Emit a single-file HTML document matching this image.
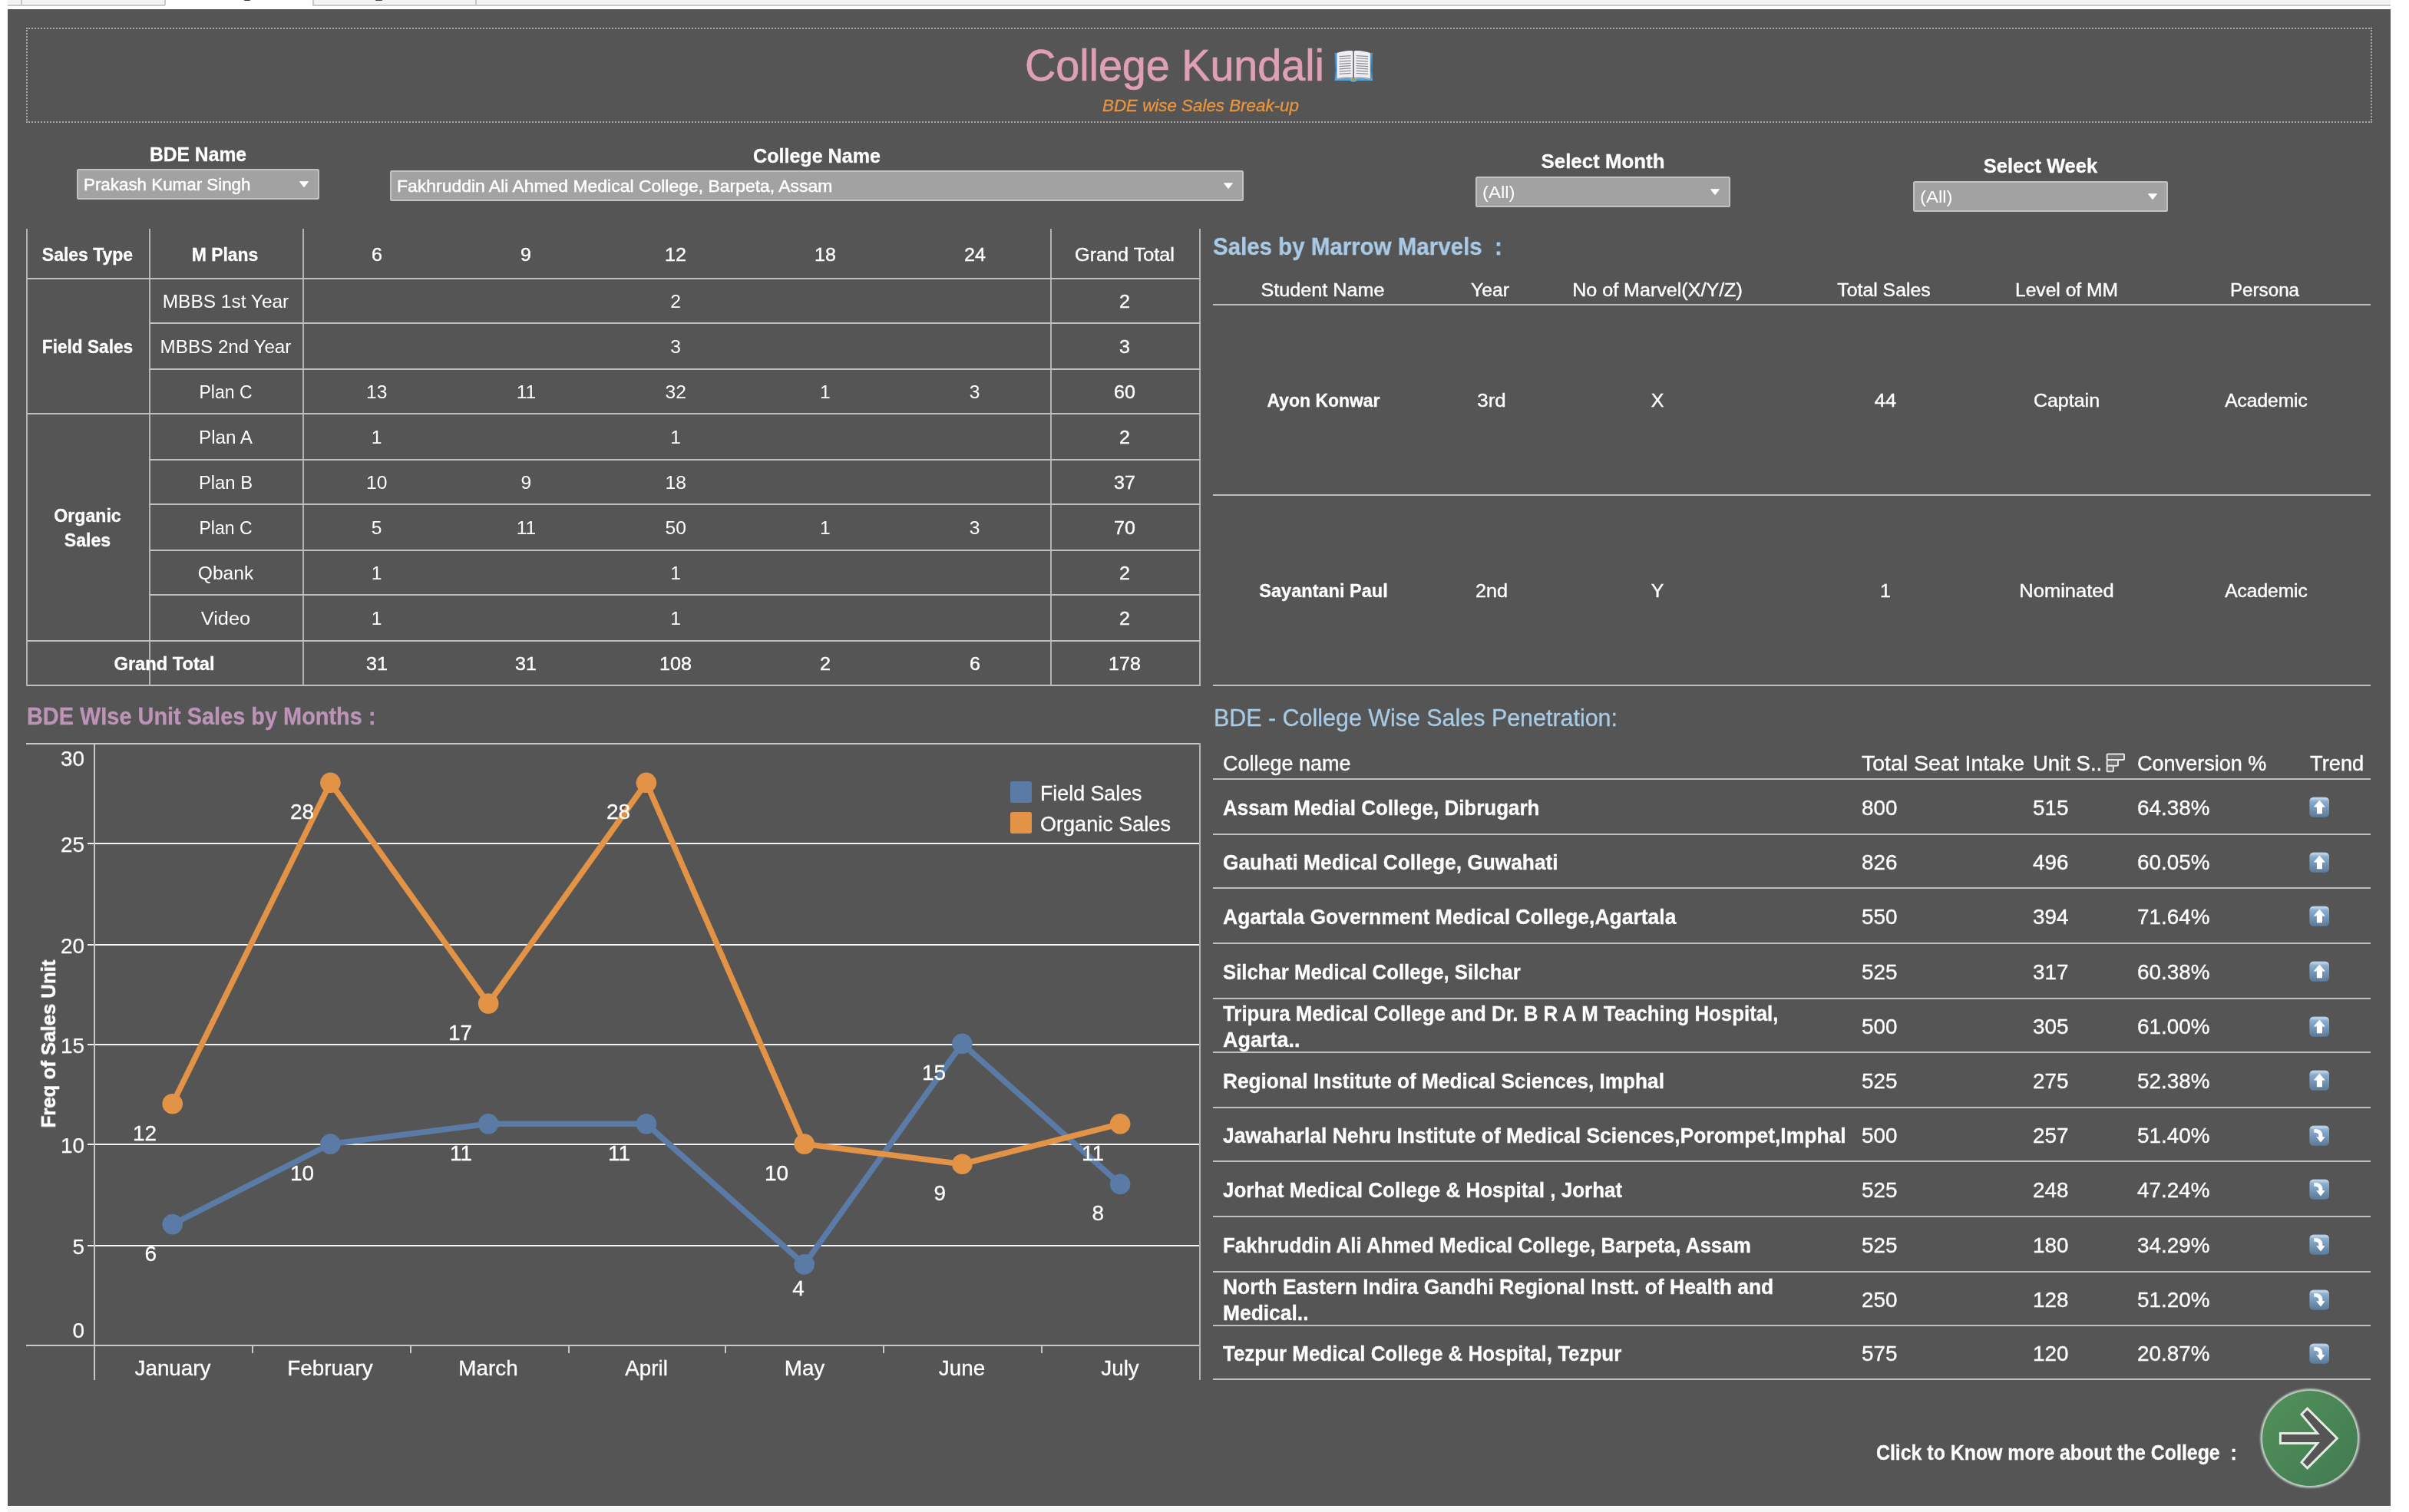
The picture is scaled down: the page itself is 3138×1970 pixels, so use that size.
<!DOCTYPE html>
<html><head><meta charset="utf-8"><title>College Kundali</title>
<style>
html,body{margin:0;padding:0;background:#fff;}
#root{position:relative;width:3138px;height:1970px;overflow:hidden;background:transparent;
 font-family:"Liberation Sans",sans-serif;will-change:transform;}
#root>div,#root>svg{position:absolute;box-sizing:content-box;}
</style></head>
<body><div id="root">
<div style="left:0.00px;top:0.00px;width:3138.00px;height:12.00px;background:#ffffff;"></div>
<div style="left:10.00px;top:0.00px;width:205.00px;height:6.00px;background:#f3f3f3;"></div>
<div style="left:407.00px;top:0.00px;width:2707.00px;height:6.00px;background:#f3f3f3;"></div>
<div style="left:10.00px;top:6.00px;width:205.00px;height:1.50px;background:#c8c8c8;"></div>
<div style="left:407.00px;top:6.00px;width:2707.00px;height:1.50px;background:#c8c8c8;"></div>
<div style="left:318.00px;top:0.00px;width:8.00px;height:1.40px;background:#333333;border-radius:0 0 2px 2px;"></div>
<div style="left:489.00px;top:0.00px;width:9.00px;height:1.20px;background:#444444;border-radius:0 0 2px 2px;"></div>
<div style="left:27.00px;top:0.00px;width:1.50px;height:7.00px;background:#c8c8c8;"></div>
<div style="left:214.00px;top:0.00px;width:1.50px;height:7.00px;background:#c8c8c8;"></div>
<div style="left:407.00px;top:0.00px;width:1.50px;height:7.00px;background:#c8c8c8;"></div>
<div style="left:619.00px;top:0.00px;width:1.50px;height:7.00px;background:#c8c8c8;"></div>
<div style="left:10.00px;top:12.00px;width:3104.00px;height:1950.00px;background:#555555;"></div>
<div style="left:10.00px;top:1963.00px;width:3104.00px;height:7.00px;background:#f5f5f5;"></div>
<div style="left:3114.00px;top:0.00px;width:24.00px;height:1970.00px;background:#ffffff;"></div>
<div style="left:0.00px;top:12.00px;width:10.00px;height:1950.00px;background:#ffffff;"></div>
<div style="left:34px;top:36px;width:3052px;height:120px;border:2px dotted #a9a9a9;background:none;"></div>
<div style="top:49.30px;height:74px;line-height:74px;font-size:56.8px;color:#dfa0b6;white-space:pre;-webkit-text-stroke:0.7px #dfa0b6;left:1334.50px;transform-origin:0 50%;transform:scaleX(0.9802);">College Kundali</div>
<div style="top:124.20px;height:28px;line-height:28px;font-size:21.9px;color:#e9963e;white-space:pre;font-style:italic;-webkit-text-stroke:0.3px #e9963e;left:1435.80px;transform-origin:0 50%;transform:scaleX(1.0210);">BDE wise Sales Break-up</div>
<div style="top:184.80px;height:33px;line-height:33px;font-size:25.2px;color:#fff;white-space:pre;font-weight:bold;-webkit-text-stroke:0.3px #fff;left:-941.70px;width:2400px;text-align:center;transform-origin:50% 50%;transform:scaleX(0.9795);">BDE Name</div>
<div style="left:100px;top:220px;width:312px;height:36px;background:#a2a2a2;border:2px solid #c2c2c2;border-radius:2.5px;"></div>
<div style="top:225.20px;height:30px;line-height:30px;font-size:22.7px;color:#fff;white-space:pre;-webkit-text-stroke:0.44999999999999996px #fff;left:109.00px;transform-origin:0 50%;transform:scaleX(0.9855);">Prakash Kumar Singh</div>
<svg style="left:389px;top:235.8px" width="14" height="9" viewBox="0 0 14 9"><path d="M0.7 0.3 L13.3 0.3 L7 8.3 Z" fill="#fff"/></svg>
<div style="top:186.80px;height:33px;line-height:33px;font-size:25.2px;color:#fff;white-space:pre;font-weight:bold;-webkit-text-stroke:0.3px #fff;left:-136.20px;width:2400px;text-align:center;transform-origin:50% 50%;transform:scaleX(0.9961);">College Name</div>
<div style="left:508px;top:222px;width:1108px;height:36px;background:#a2a2a2;border:2px solid #c2c2c2;border-radius:2.5px;"></div>
<div style="top:227.20px;height:30px;line-height:30px;font-size:22.7px;color:#fff;white-space:pre;-webkit-text-stroke:0.44999999999999996px #fff;left:517.00px;transform-origin:0 50%;transform:scaleX(1.0110);">Fakhruddin Ali Ahmed Medical College, Barpeta, Assam</div>
<svg style="left:1593px;top:237.8px" width="14" height="9" viewBox="0 0 14 9"><path d="M0.7 0.3 L13.3 0.3 L7 8.3 Z" fill="#fff"/></svg>
<div style="top:194.10px;height:33px;line-height:33px;font-size:25.2px;color:#fff;white-space:pre;font-weight:bold;-webkit-text-stroke:0.3px #fff;left:887.90px;width:2400px;text-align:center;transform-origin:50% 50%;transform:scaleX(1.0267);">Select Month</div>
<div style="left:1922px;top:230px;width:328px;height:36px;background:#a2a2a2;border:2px solid #c2c2c2;border-radius:2.5px;"></div>
<div style="top:235.20px;height:30px;line-height:30px;font-size:22.7px;color:#fff;white-space:pre;left:1931.00px;transform-origin:0 50%;transform:scaleX(1.0558);">(All)</div>
<svg style="left:2227px;top:245.8px" width="14" height="9" viewBox="0 0 14 9"><path d="M0.7 0.3 L13.3 0.3 L7 8.3 Z" fill="#fff"/></svg>
<div style="top:199.80px;height:33px;line-height:33px;font-size:25.2px;color:#fff;white-space:pre;font-weight:bold;-webkit-text-stroke:0.3px #fff;left:1457.80px;width:2400px;text-align:center;transform-origin:50% 50%;transform:scaleX(1.0121);">Select Week</div>
<div style="left:2492px;top:236px;width:328px;height:36px;background:#a2a2a2;border:2px solid #c2c2c2;border-radius:2.5px;"></div>
<div style="top:241.20px;height:30px;line-height:30px;font-size:22.7px;color:#fff;white-space:pre;left:2501.00px;transform-origin:0 50%;transform:scaleX(1.0558);">(All)</div>
<svg style="left:2797px;top:251.8px" width="14" height="9" viewBox="0 0 14 9"><path d="M0.7 0.3 L13.3 0.3 L7 8.3 Z" fill="#fff"/></svg>
<div style="left:34.00px;top:298.00px;width:2.00px;height:596.00px;background:#b2b2b2;"></div>
<div style="left:194.00px;top:298.00px;width:2.00px;height:596.00px;background:#b2b2b2;"></div>
<div style="left:394.00px;top:298.00px;width:2.00px;height:596.00px;background:#b2b2b2;"></div>
<div style="left:1368.00px;top:298.00px;width:2.00px;height:596.00px;background:#b2b2b2;"></div>
<div style="left:1562.00px;top:298.00px;width:2.00px;height:596.00px;background:#b2b2b2;"></div>
<div style="left:35.00px;top:362.00px;width:1529.00px;height:2.00px;background:#bfbfbf;"></div>
<div style="left:195.00px;top:420.00px;width:1369.00px;height:2.00px;background:#bfbfbf;"></div>
<div style="left:195.00px;top:480.00px;width:1369.00px;height:2.00px;background:#bfbfbf;"></div>
<div style="left:35.00px;top:538.00px;width:1529.00px;height:2.00px;background:#bfbfbf;"></div>
<div style="left:195.00px;top:598.00px;width:1369.00px;height:2.00px;background:#bfbfbf;"></div>
<div style="left:195.00px;top:656.00px;width:1369.00px;height:2.00px;background:#bfbfbf;"></div>
<div style="left:195.00px;top:716.00px;width:1369.00px;height:2.00px;background:#bfbfbf;"></div>
<div style="left:195.00px;top:774.00px;width:1369.00px;height:2.00px;background:#bfbfbf;"></div>
<div style="left:35.00px;top:834.00px;width:1529.00px;height:2.00px;background:#bfbfbf;"></div>
<div style="left:35.00px;top:892.00px;width:1529.00px;height:2.00px;background:#bfbfbf;"></div>
<div style="top:315.60px;height:32px;line-height:32px;font-size:24.6px;color:#fff;white-space:pre;font-weight:bold;-webkit-text-stroke:0.3px #fff;left:-1086.30px;width:2400px;text-align:center;transform-origin:50% 50%;transform:scaleX(0.9336);">Sales Type</div>
<div style="top:315.60px;height:32px;line-height:32px;font-size:24.6px;color:#fff;white-space:pre;font-weight:bold;-webkit-text-stroke:0.3px #fff;left:-907.20px;width:2400px;text-align:center;transform-origin:50% 50%;transform:scaleX(0.9326);">M Plans</div>
<div style="top:315.60px;height:32px;line-height:32px;font-size:24.6px;color:#fff;white-space:pre;-webkit-text-stroke:0.4px #fff;left:-709.30px;width:2400px;text-align:center;transform-origin:50% 50%;transform:scaleX(1.0200);">6</div>
<div style="top:315.60px;height:32px;line-height:32px;font-size:24.6px;color:#fff;white-space:pre;-webkit-text-stroke:0.4px #fff;left:-514.60px;width:2400px;text-align:center;transform-origin:50% 50%;transform:scaleX(1.0200);">9</div>
<div style="top:315.60px;height:32px;line-height:32px;font-size:24.6px;color:#fff;white-space:pre;-webkit-text-stroke:0.4px #fff;left:-319.80px;width:2400px;text-align:center;transform-origin:50% 50%;transform:scaleX(1.0200);">12</div>
<div style="top:315.60px;height:32px;line-height:32px;font-size:24.6px;color:#fff;white-space:pre;-webkit-text-stroke:0.4px #fff;left:-125.20px;width:2400px;text-align:center;transform-origin:50% 50%;transform:scaleX(1.0200);">18</div>
<div style="top:315.60px;height:32px;line-height:32px;font-size:24.6px;color:#fff;white-space:pre;-webkit-text-stroke:0.4px #fff;left:69.60px;width:2400px;text-align:center;transform-origin:50% 50%;transform:scaleX(1.0200);">24</div>
<div style="top:315.60px;height:32px;line-height:32px;font-size:24.6px;color:#fff;white-space:pre;-webkit-text-stroke:0.4px #fff;left:264.50px;width:2400px;text-align:center;transform-origin:50% 50%;transform:scaleX(1.0258);">Grand Total</div>
<div style="top:377.20px;height:32px;line-height:32px;font-size:24.6px;color:#fff;white-space:pre;left:-905.70px;width:2400px;text-align:center;transform-origin:50% 50%;transform:scaleX(0.9948);">MBBS 1st Year</div>
<div style="top:376.70px;height:32px;line-height:32px;font-size:24.6px;color:#fff;white-space:pre;left:-319.80px;width:2400px;text-align:center;transform-origin:50% 50%;transform:scaleX(1.0000);">2</div>
<div style="top:376.70px;height:32px;line-height:32px;font-size:24.6px;color:#fff;white-space:pre;-webkit-text-stroke:0.4px #fff;left:264.50px;width:2400px;text-align:center;transform-origin:50% 50%;transform:scaleX(1.0200);">2</div>
<div style="top:436.20px;height:32px;line-height:32px;font-size:24.6px;color:#fff;white-space:pre;left:-905.70px;width:2400px;text-align:center;transform-origin:50% 50%;transform:scaleX(0.9833);">MBBS 2nd Year</div>
<div style="top:435.70px;height:32px;line-height:32px;font-size:24.6px;color:#fff;white-space:pre;left:-319.80px;width:2400px;text-align:center;transform-origin:50% 50%;transform:scaleX(1.0000);">3</div>
<div style="top:435.70px;height:32px;line-height:32px;font-size:24.6px;color:#fff;white-space:pre;-webkit-text-stroke:0.4px #fff;left:264.50px;width:2400px;text-align:center;transform-origin:50% 50%;transform:scaleX(1.0200);">3</div>
<div style="top:495.20px;height:32px;line-height:32px;font-size:24.6px;color:#fff;white-space:pre;left:-905.70px;width:2400px;text-align:center;transform-origin:50% 50%;transform:scaleX(0.9345);">Plan C</div>
<div style="top:494.70px;height:32px;line-height:32px;font-size:24.6px;color:#fff;white-space:pre;left:-709.30px;width:2400px;text-align:center;transform-origin:50% 50%;transform:scaleX(1.0000);">13</div>
<div style="top:494.70px;height:32px;line-height:32px;font-size:24.6px;color:#fff;white-space:pre;left:-514.60px;width:2400px;text-align:center;transform-origin:50% 50%;transform:scaleX(1.0000);">11</div>
<div style="top:494.70px;height:32px;line-height:32px;font-size:24.6px;color:#fff;white-space:pre;left:-319.80px;width:2400px;text-align:center;transform-origin:50% 50%;transform:scaleX(1.0000);">32</div>
<div style="top:494.70px;height:32px;line-height:32px;font-size:24.6px;color:#fff;white-space:pre;left:-125.20px;width:2400px;text-align:center;transform-origin:50% 50%;transform:scaleX(1.0000);">1</div>
<div style="top:494.70px;height:32px;line-height:32px;font-size:24.6px;color:#fff;white-space:pre;left:69.60px;width:2400px;text-align:center;transform-origin:50% 50%;transform:scaleX(1.0000);">3</div>
<div style="top:494.70px;height:32px;line-height:32px;font-size:24.6px;color:#fff;white-space:pre;-webkit-text-stroke:0.4px #fff;left:264.50px;width:2400px;text-align:center;transform-origin:50% 50%;transform:scaleX(1.0200);">60</div>
<div style="top:554.20px;height:32px;line-height:32px;font-size:24.6px;color:#fff;white-space:pre;left:-905.70px;width:2400px;text-align:center;transform-origin:50% 50%;transform:scaleX(0.9842);">Plan A</div>
<div style="top:553.70px;height:32px;line-height:32px;font-size:24.6px;color:#fff;white-space:pre;left:-709.30px;width:2400px;text-align:center;transform-origin:50% 50%;transform:scaleX(1.0000);">1</div>
<div style="top:553.70px;height:32px;line-height:32px;font-size:24.6px;color:#fff;white-space:pre;left:-319.80px;width:2400px;text-align:center;transform-origin:50% 50%;transform:scaleX(1.0000);">1</div>
<div style="top:553.70px;height:32px;line-height:32px;font-size:24.6px;color:#fff;white-space:pre;-webkit-text-stroke:0.4px #fff;left:264.50px;width:2400px;text-align:center;transform-origin:50% 50%;transform:scaleX(1.0200);">2</div>
<div style="top:613.20px;height:32px;line-height:32px;font-size:24.6px;color:#fff;white-space:pre;left:-905.70px;width:2400px;text-align:center;transform-origin:50% 50%;transform:scaleX(0.9658);">Plan B</div>
<div style="top:612.70px;height:32px;line-height:32px;font-size:24.6px;color:#fff;white-space:pre;left:-709.30px;width:2400px;text-align:center;transform-origin:50% 50%;transform:scaleX(1.0000);">10</div>
<div style="top:612.70px;height:32px;line-height:32px;font-size:24.6px;color:#fff;white-space:pre;left:-514.60px;width:2400px;text-align:center;transform-origin:50% 50%;transform:scaleX(1.0000);">9</div>
<div style="top:612.70px;height:32px;line-height:32px;font-size:24.6px;color:#fff;white-space:pre;left:-319.80px;width:2400px;text-align:center;transform-origin:50% 50%;transform:scaleX(1.0000);">18</div>
<div style="top:612.70px;height:32px;line-height:32px;font-size:24.6px;color:#fff;white-space:pre;-webkit-text-stroke:0.4px #fff;left:264.50px;width:2400px;text-align:center;transform-origin:50% 50%;transform:scaleX(1.0200);">37</div>
<div style="top:672.20px;height:32px;line-height:32px;font-size:24.6px;color:#fff;white-space:pre;left:-905.70px;width:2400px;text-align:center;transform-origin:50% 50%;transform:scaleX(0.9345);">Plan C</div>
<div style="top:671.70px;height:32px;line-height:32px;font-size:24.6px;color:#fff;white-space:pre;left:-709.30px;width:2400px;text-align:center;transform-origin:50% 50%;transform:scaleX(1.0000);">5</div>
<div style="top:671.70px;height:32px;line-height:32px;font-size:24.6px;color:#fff;white-space:pre;left:-514.60px;width:2400px;text-align:center;transform-origin:50% 50%;transform:scaleX(1.0000);">11</div>
<div style="top:671.70px;height:32px;line-height:32px;font-size:24.6px;color:#fff;white-space:pre;left:-319.80px;width:2400px;text-align:center;transform-origin:50% 50%;transform:scaleX(1.0000);">50</div>
<div style="top:671.70px;height:32px;line-height:32px;font-size:24.6px;color:#fff;white-space:pre;left:-125.20px;width:2400px;text-align:center;transform-origin:50% 50%;transform:scaleX(1.0000);">1</div>
<div style="top:671.70px;height:32px;line-height:32px;font-size:24.6px;color:#fff;white-space:pre;left:69.60px;width:2400px;text-align:center;transform-origin:50% 50%;transform:scaleX(1.0000);">3</div>
<div style="top:671.70px;height:32px;line-height:32px;font-size:24.6px;color:#fff;white-space:pre;-webkit-text-stroke:0.4px #fff;left:264.50px;width:2400px;text-align:center;transform-origin:50% 50%;transform:scaleX(1.0200);">70</div>
<div style="top:731.20px;height:32px;line-height:32px;font-size:24.6px;color:#fff;white-space:pre;left:-905.70px;width:2400px;text-align:center;transform-origin:50% 50%;transform:scaleX(1.0003);">Qbank</div>
<div style="top:730.70px;height:32px;line-height:32px;font-size:24.6px;color:#fff;white-space:pre;left:-709.30px;width:2400px;text-align:center;transform-origin:50% 50%;transform:scaleX(1.0000);">1</div>
<div style="top:730.70px;height:32px;line-height:32px;font-size:24.6px;color:#fff;white-space:pre;left:-319.80px;width:2400px;text-align:center;transform-origin:50% 50%;transform:scaleX(1.0000);">1</div>
<div style="top:730.70px;height:32px;line-height:32px;font-size:24.6px;color:#fff;white-space:pre;-webkit-text-stroke:0.4px #fff;left:264.50px;width:2400px;text-align:center;transform-origin:50% 50%;transform:scaleX(1.0200);">2</div>
<div style="top:790.20px;height:32px;line-height:32px;font-size:24.6px;color:#fff;white-space:pre;left:-905.70px;width:2400px;text-align:center;transform-origin:50% 50%;transform:scaleX(1.0324);">Video</div>
<div style="top:789.70px;height:32px;line-height:32px;font-size:24.6px;color:#fff;white-space:pre;left:-709.30px;width:2400px;text-align:center;transform-origin:50% 50%;transform:scaleX(1.0000);">1</div>
<div style="top:789.70px;height:32px;line-height:32px;font-size:24.6px;color:#fff;white-space:pre;left:-319.80px;width:2400px;text-align:center;transform-origin:50% 50%;transform:scaleX(1.0000);">1</div>
<div style="top:789.70px;height:32px;line-height:32px;font-size:24.6px;color:#fff;white-space:pre;-webkit-text-stroke:0.4px #fff;left:264.50px;width:2400px;text-align:center;transform-origin:50% 50%;transform:scaleX(1.0200);">2</div>
<div style="top:435.60px;height:32px;line-height:32px;font-size:24.6px;color:#fff;white-space:pre;font-weight:bold;-webkit-text-stroke:0.3px #fff;left:-1086.00px;width:2400px;text-align:center;transform-origin:50% 50%;transform:scaleX(0.9204);">Field Sales</div>
<div style="top:656.00px;height:32px;line-height:32px;font-size:24.6px;color:#fff;white-space:pre;font-weight:bold;-webkit-text-stroke:0.3px #fff;left:-1086.00px;width:2400px;text-align:center;transform-origin:50% 50%;transform:scaleX(0.9400);">Organic</div>
<div style="top:687.80px;height:32px;line-height:32px;font-size:24.6px;color:#fff;white-space:pre;font-weight:bold;-webkit-text-stroke:0.3px #fff;left:-1086.00px;width:2400px;text-align:center;transform-origin:50% 50%;transform:scaleX(0.9400);">Sales</div>
<div style="top:849.20px;height:32px;line-height:32px;font-size:24.6px;color:#fff;white-space:pre;font-weight:bold;-webkit-text-stroke:0.3px #fff;left:-986.20px;width:2400px;text-align:center;transform-origin:50% 50%;transform:scaleX(0.9617);">Grand Total</div>
<div style="top:848.70px;height:32px;line-height:32px;font-size:24.6px;color:#fff;white-space:pre;-webkit-text-stroke:0.45px #fff;left:-709.30px;width:2400px;text-align:center;transform-origin:50% 50%;transform:scaleX(1.0200);">31</div>
<div style="top:848.70px;height:32px;line-height:32px;font-size:24.6px;color:#fff;white-space:pre;-webkit-text-stroke:0.45px #fff;left:-514.60px;width:2400px;text-align:center;transform-origin:50% 50%;transform:scaleX(1.0200);">31</div>
<div style="top:848.70px;height:32px;line-height:32px;font-size:24.6px;color:#fff;white-space:pre;-webkit-text-stroke:0.45px #fff;left:-319.80px;width:2400px;text-align:center;transform-origin:50% 50%;transform:scaleX(1.0200);">108</div>
<div style="top:848.70px;height:32px;line-height:32px;font-size:24.6px;color:#fff;white-space:pre;-webkit-text-stroke:0.45px #fff;left:-125.20px;width:2400px;text-align:center;transform-origin:50% 50%;transform:scaleX(1.0200);">2</div>
<div style="top:848.70px;height:32px;line-height:32px;font-size:24.6px;color:#fff;white-space:pre;-webkit-text-stroke:0.45px #fff;left:69.60px;width:2400px;text-align:center;transform-origin:50% 50%;transform:scaleX(1.0200);">6</div>
<div style="top:848.70px;height:32px;line-height:32px;font-size:24.6px;color:#fff;white-space:pre;-webkit-text-stroke:0.45px #fff;left:264.50px;width:2400px;text-align:center;transform-origin:50% 50%;transform:scaleX(1.0200);">178</div>
<div style="top:301.60px;height:40px;line-height:40px;font-size:31.0px;color:#a9cbe7;white-space:pre;font-weight:bold;-webkit-text-stroke:0.3px #a9cbe7;left:1580.40px;transform-origin:0 50%;transform:scaleX(0.9506);">Sales by Marrow Marvels  :</div>
<div style="top:361.60px;height:32px;line-height:32px;font-size:24.6px;color:#fff;white-space:pre;-webkit-text-stroke:0.4px #fff;left:523.00px;width:2400px;text-align:center;transform-origin:50% 50%;transform:scaleX(1.0231);">Student Name</div>
<div style="top:361.60px;height:32px;line-height:32px;font-size:24.6px;color:#fff;white-space:pre;-webkit-text-stroke:0.4px #fff;left:741.00px;width:2400px;text-align:center;transform-origin:50% 50%;transform:scaleX(1.0019);">Year</div>
<div style="top:361.60px;height:32px;line-height:32px;font-size:24.6px;color:#fff;white-space:pre;-webkit-text-stroke:0.4px #fff;left:959.40px;width:2400px;text-align:center;transform-origin:50% 50%;transform:scaleX(1.0200);">No of Marvel(X/Y/Z)</div>
<div style="top:361.60px;height:32px;line-height:32px;font-size:24.6px;color:#fff;white-space:pre;-webkit-text-stroke:0.4px #fff;left:1253.60px;width:2400px;text-align:center;transform-origin:50% 50%;transform:scaleX(1.0097);">Total Sales</div>
<div style="top:361.60px;height:32px;line-height:32px;font-size:24.6px;color:#fff;white-space:pre;-webkit-text-stroke:0.4px #fff;left:1491.70px;width:2400px;text-align:center;transform-origin:50% 50%;transform:scaleX(1.0001);">Level of MM</div>
<div style="top:361.60px;height:32px;line-height:32px;font-size:24.6px;color:#fff;white-space:pre;-webkit-text-stroke:0.4px #fff;left:1749.70px;width:2400px;text-align:center;transform-origin:50% 50%;transform:scaleX(0.9844);">Persona</div>
<div style="left:1580.00px;top:396.00px;width:1508.00px;height:2.00px;background:#bfbfbf;"></div>
<div style="left:1580.00px;top:644.00px;width:1508.00px;height:2.00px;background:#bfbfbf;"></div>
<div style="left:1580.00px;top:892.00px;width:1508.00px;height:2.00px;background:#bfbfbf;"></div>
<div style="top:505.80px;height:32px;line-height:32px;font-size:24.6px;color:#fff;white-space:pre;font-weight:bold;-webkit-text-stroke:0.3px #fff;left:523.50px;width:2400px;text-align:center;transform-origin:50% 50%;transform:scaleX(0.9326);">Ayon Konwar</div>
<div style="top:505.80px;height:32px;line-height:32px;font-size:24.6px;color:#fff;white-space:pre;-webkit-text-stroke:0.4px #fff;left:743.00px;width:2400px;text-align:center;transform-origin:50% 50%;transform:scaleX(1.0518);">3rd</div>
<div style="top:505.80px;height:32px;line-height:32px;font-size:24.6px;color:#fff;white-space:pre;-webkit-text-stroke:0.4px #fff;left:959.40px;width:2400px;text-align:center;transform-origin:50% 50%;transform:scaleX(1.0150);">X</div>
<div style="top:505.80px;height:32px;line-height:32px;font-size:24.6px;color:#fff;white-space:pre;-webkit-text-stroke:0.4px #fff;left:1255.60px;width:2400px;text-align:center;transform-origin:50% 50%;transform:scaleX(1.0379);">44</div>
<div style="top:505.80px;height:32px;line-height:32px;font-size:24.6px;color:#fff;white-space:pre;-webkit-text-stroke:0.4px #fff;left:1491.70px;width:2400px;text-align:center;transform-origin:50% 50%;transform:scaleX(1.0166);">Captain</div>
<div style="top:505.80px;height:32px;line-height:32px;font-size:24.6px;color:#fff;white-space:pre;-webkit-text-stroke:0.4px #fff;left:1751.70px;width:2400px;text-align:center;transform-origin:50% 50%;transform:scaleX(0.9962);">Academic</div>
<div style="top:753.80px;height:32px;line-height:32px;font-size:24.6px;color:#fff;white-space:pre;font-weight:bold;-webkit-text-stroke:0.3px #fff;left:523.50px;width:2400px;text-align:center;transform-origin:50% 50%;transform:scaleX(0.9565);">Sayantani Paul</div>
<div style="top:753.80px;height:32px;line-height:32px;font-size:24.6px;color:#fff;white-space:pre;-webkit-text-stroke:0.4px #fff;left:743.00px;width:2400px;text-align:center;transform-origin:50% 50%;transform:scaleX(1.0233);">2nd</div>
<div style="top:753.80px;height:32px;line-height:32px;font-size:24.6px;color:#fff;white-space:pre;-webkit-text-stroke:0.4px #fff;left:959.40px;width:2400px;text-align:center;transform-origin:50% 50%;transform:scaleX(1.0150);">Y</div>
<div style="top:753.80px;height:32px;line-height:32px;font-size:24.6px;color:#fff;white-space:pre;-webkit-text-stroke:0.4px #fff;left:1255.60px;width:2400px;text-align:center;transform-origin:50% 50%;transform:scaleX(1.0150);">1</div>
<div style="top:753.80px;height:32px;line-height:32px;font-size:24.6px;color:#fff;white-space:pre;-webkit-text-stroke:0.4px #fff;left:1491.70px;width:2400px;text-align:center;transform-origin:50% 50%;transform:scaleX(1.0381);">Nominated</div>
<div style="top:753.80px;height:32px;line-height:32px;font-size:24.6px;color:#fff;white-space:pre;-webkit-text-stroke:0.4px #fff;left:1751.70px;width:2400px;text-align:center;transform-origin:50% 50%;transform:scaleX(0.9962);">Academic</div>
<div style="top:913.30px;height:40px;line-height:40px;font-size:30.5px;color:#bd94b7;white-space:pre;font-weight:bold;-webkit-text-stroke:0.3px #bd94b7;left:35.20px;transform-origin:0 50%;transform:scaleX(0.9477);">BDE WIse Unit Sales by Months :</div>
<div style="left:34.00px;top:968.00px;width:1530.00px;height:2.00px;background:#c8c8c8;"></div>
<div style="left:34.00px;top:1752.00px;width:1530.00px;height:2.00px;background:#c8c8c8;"></div>
<div style="left:114.00px;top:1622.00px;width:1449.00px;height:2.00px;background:#f4f4f4;"></div>
<div style="top:1607.70px;height:35px;line-height:35px;font-size:27px;color:#fff;white-space:pre;-webkit-text-stroke:0.25px #fff;left:-2289.80px;width:2400px;text-align:right;transform-origin:100% 50%;transform:scaleX(1.0300);">5</div>
<div style="left:114.00px;top:1490.00px;width:1449.00px;height:2.00px;background:#f4f4f4;"></div>
<div style="top:1475.70px;height:35px;line-height:35px;font-size:27px;color:#fff;white-space:pre;-webkit-text-stroke:0.25px #fff;left:-2289.80px;width:2400px;text-align:right;transform-origin:100% 50%;transform:scaleX(1.0300);">10</div>
<div style="left:114.00px;top:1360.00px;width:1449.00px;height:2.00px;background:#f4f4f4;"></div>
<div style="top:1345.70px;height:35px;line-height:35px;font-size:27px;color:#fff;white-space:pre;-webkit-text-stroke:0.25px #fff;left:-2289.80px;width:2400px;text-align:right;transform-origin:100% 50%;transform:scaleX(1.0300);">15</div>
<div style="left:114.00px;top:1230.00px;width:1449.00px;height:2.00px;background:#f4f4f4;"></div>
<div style="top:1215.70px;height:35px;line-height:35px;font-size:27px;color:#fff;white-space:pre;-webkit-text-stroke:0.25px #fff;left:-2289.80px;width:2400px;text-align:right;transform-origin:100% 50%;transform:scaleX(1.0300);">20</div>
<div style="left:114.00px;top:1098.00px;width:1449.00px;height:2.00px;background:#f4f4f4;"></div>
<div style="top:1083.70px;height:35px;line-height:35px;font-size:27px;color:#fff;white-space:pre;-webkit-text-stroke:0.25px #fff;left:-2289.80px;width:2400px;text-align:right;transform-origin:100% 50%;transform:scaleX(1.0300);">25</div>
<div style="left:122.00px;top:968.00px;width:2.00px;height:830.00px;background:#c8c8c8;"></div>
<div style="left:1562.00px;top:968.00px;width:2.00px;height:830.00px;background:#b2b2b2;"></div>
<div style="top:971.70px;height:35px;line-height:35px;font-size:27px;color:#fff;white-space:pre;-webkit-text-stroke:0.25px #fff;left:-2289.80px;width:2400px;text-align:right;transform-origin:100% 50%;transform:scaleX(1.0300);">30</div>
<div style="top:1717.10px;height:35px;line-height:35px;font-size:27px;color:#fff;white-space:pre;-webkit-text-stroke:0.25px #fff;left:-2289.80px;width:2400px;text-align:right;transform-origin:100% 50%;transform:scaleX(1.0300);">0</div>
<div style="top:1766.10px;height:35px;line-height:35px;font-size:27px;color:#fff;white-space:pre;-webkit-text-stroke:0.3px #fff;left:-975.30px;width:2400px;text-align:center;transform-origin:50% 50%;transform:scaleX(1.0300);">January</div>
<div style="top:1766.10px;height:35px;line-height:35px;font-size:27px;color:#fff;white-space:pre;-webkit-text-stroke:0.3px #fff;left:-769.56px;width:2400px;text-align:center;transform-origin:50% 50%;transform:scaleX(1.0300);">February</div>
<div style="left:328.00px;top:1753.00px;width:2.00px;height:10.00px;background:#c8c8c8;"></div>
<div style="top:1766.10px;height:35px;line-height:35px;font-size:27px;color:#fff;white-space:pre;-webkit-text-stroke:0.3px #fff;left:-563.82px;width:2400px;text-align:center;transform-origin:50% 50%;transform:scaleX(1.0300);">March</div>
<div style="left:534.00px;top:1753.00px;width:2.00px;height:10.00px;background:#c8c8c8;"></div>
<div style="top:1766.10px;height:35px;line-height:35px;font-size:27px;color:#fff;white-space:pre;-webkit-text-stroke:0.3px #fff;left:-358.08px;width:2400px;text-align:center;transform-origin:50% 50%;transform:scaleX(1.0300);">April</div>
<div style="left:740.00px;top:1753.00px;width:2.00px;height:10.00px;background:#c8c8c8;"></div>
<div style="top:1766.10px;height:35px;line-height:35px;font-size:27px;color:#fff;white-space:pre;-webkit-text-stroke:0.3px #fff;left:-152.34px;width:2400px;text-align:center;transform-origin:50% 50%;transform:scaleX(1.0300);">May</div>
<div style="left:944.00px;top:1753.00px;width:2.00px;height:10.00px;background:#c8c8c8;"></div>
<div style="top:1766.10px;height:35px;line-height:35px;font-size:27px;color:#fff;white-space:pre;-webkit-text-stroke:0.3px #fff;left:53.40px;width:2400px;text-align:center;transform-origin:50% 50%;transform:scaleX(1.0300);">June</div>
<div style="left:1150.00px;top:1753.00px;width:2.00px;height:10.00px;background:#c8c8c8;"></div>
<div style="top:1766.10px;height:35px;line-height:35px;font-size:27px;color:#fff;white-space:pre;-webkit-text-stroke:0.3px #fff;left:259.14px;width:2400px;text-align:center;transform-origin:50% 50%;transform:scaleX(1.0300);">July</div>
<div style="left:1356.00px;top:1753.00px;width:2.00px;height:10.00px;background:#c8c8c8;"></div>
<div style="left:63.0px;top:1359.8px;width:0;height:0;overflow:visible;"><div style="position:absolute;left:-200px;top:-17px;width:400px;height:34px;line-height:34px;text-align:center;font-size:26.6px;font-weight:bold;color:#fff;white-space:nowrap;-webkit-text-stroke:0.5px #fff;will-change:transform;transform:rotate(-90deg) scaleX(0.968);">Freq of Sales Unit</div></div>
<svg style="left:0;top:0" width="3138" height="1970" viewBox="0 0 3138 1970"><polyline points="224.7,1595.1 430.4,1490.5 636.2,1464.3 841.9,1464.3 1047.7,1647.4 1253.4,1359.8 1459.1,1542.8" fill="none" stroke="#5a7ba6" stroke-width="7.5" stroke-linejoin="round"/><polyline points="224.7,1438.2 430.4,1019.8 636.2,1307.5 841.9,1019.8 1047.7,1490.5 1253.4,1516.7 1459.1,1464.3" fill="none" stroke="#e39345" stroke-width="7.5" stroke-linejoin="round"/><circle cx="224.7" cy="1595.1" r="13.3" fill="#5a7ba6"/><circle cx="430.4" cy="1490.5" r="13.3" fill="#5a7ba6"/><circle cx="636.2" cy="1464.3" r="13.3" fill="#5a7ba6"/><circle cx="841.9" cy="1464.3" r="13.3" fill="#5a7ba6"/><circle cx="1047.7" cy="1647.4" r="13.3" fill="#5a7ba6"/><circle cx="1253.4" cy="1359.8" r="13.3" fill="#5a7ba6"/><circle cx="1459.1" cy="1542.8" r="13.3" fill="#5a7ba6"/><circle cx="224.7" cy="1438.2" r="13.3" fill="#e39345"/><circle cx="430.4" cy="1019.8" r="13.3" fill="#e39345"/><circle cx="636.2" cy="1307.5" r="13.3" fill="#e39345"/><circle cx="841.9" cy="1019.8" r="13.3" fill="#e39345"/><circle cx="1047.7" cy="1490.5" r="13.3" fill="#e39345"/><circle cx="1253.4" cy="1516.7" r="13.3" fill="#e39345"/><circle cx="1459.1" cy="1464.3" r="13.3" fill="#e39345"/></svg>
<div style="top:1459.70px;height:35px;line-height:35px;font-size:27px;color:#fff;white-space:pre;-webkit-text-stroke:0.3px #fff;left:-2196.30px;width:2400px;text-align:right;transform-origin:100% 50%;transform:scaleX(1.0350);">12</div>
<div style="top:1616.60px;height:35px;line-height:35px;font-size:27px;color:#fff;white-space:pre;-webkit-text-stroke:0.3px #fff;left:-2196.30px;width:2400px;text-align:right;transform-origin:100% 50%;transform:scaleX(1.0350);">6</div>
<div style="top:1041.30px;height:35px;line-height:35px;font-size:27px;color:#fff;white-space:pre;-webkit-text-stroke:0.3px #fff;left:-1990.56px;width:2400px;text-align:right;transform-origin:100% 50%;transform:scaleX(1.0350);">28</div>
<div style="top:1512.00px;height:35px;line-height:35px;font-size:27px;color:#fff;white-space:pre;-webkit-text-stroke:0.3px #fff;left:-1990.56px;width:2400px;text-align:right;transform-origin:100% 50%;transform:scaleX(1.0350);">10</div>
<div style="top:1328.95px;height:35px;line-height:35px;font-size:27px;color:#fff;white-space:pre;-webkit-text-stroke:0.3px #fff;left:-1784.82px;width:2400px;text-align:right;transform-origin:100% 50%;transform:scaleX(1.0350);">17</div>
<div style="top:1485.85px;height:35px;line-height:35px;font-size:27px;color:#fff;white-space:pre;-webkit-text-stroke:0.3px #fff;left:-1784.82px;width:2400px;text-align:right;transform-origin:100% 50%;transform:scaleX(1.0350);">11</div>
<div style="top:1041.30px;height:35px;line-height:35px;font-size:27px;color:#fff;white-space:pre;-webkit-text-stroke:0.3px #fff;left:-1579.08px;width:2400px;text-align:right;transform-origin:100% 50%;transform:scaleX(1.0350);">28</div>
<div style="top:1485.85px;height:35px;line-height:35px;font-size:27px;color:#fff;white-space:pre;-webkit-text-stroke:0.3px #fff;left:-1579.08px;width:2400px;text-align:right;transform-origin:100% 50%;transform:scaleX(1.0350);">11</div>
<div style="top:1512.00px;height:35px;line-height:35px;font-size:27px;color:#fff;white-space:pre;-webkit-text-stroke:0.3px #fff;left:-1373.34px;width:2400px;text-align:right;transform-origin:100% 50%;transform:scaleX(1.0350);">10</div>
<div style="top:1662.10px;height:35px;line-height:35px;font-size:27px;color:#fff;white-space:pre;-webkit-text-stroke:0.3px #fff;left:-160.20px;width:2400px;text-align:center;transform-origin:50% 50%;transform:scaleX(1.0350);">4</div>
<div style="top:1538.15px;height:35px;line-height:35px;font-size:27px;color:#fff;white-space:pre;-webkit-text-stroke:0.3px #fff;left:-1167.60px;width:2400px;text-align:right;transform-origin:100% 50%;transform:scaleX(1.0350);">9</div>
<div style="top:1381.25px;height:35px;line-height:35px;font-size:27px;color:#fff;white-space:pre;-webkit-text-stroke:0.3px #fff;left:-1167.60px;width:2400px;text-align:right;transform-origin:100% 50%;transform:scaleX(1.0350);">15</div>
<div style="top:1485.85px;height:35px;line-height:35px;font-size:27px;color:#fff;white-space:pre;-webkit-text-stroke:0.3px #fff;left:-961.86px;width:2400px;text-align:right;transform-origin:100% 50%;transform:scaleX(1.0350);">11</div>
<div style="top:1564.30px;height:35px;line-height:35px;font-size:27px;color:#fff;white-space:pre;-webkit-text-stroke:0.3px #fff;left:-961.86px;width:2400px;text-align:right;transform-origin:100% 50%;transform:scaleX(1.0350);">8</div>
<div style="left:1316.00px;top:1017.90px;width:28.10px;height:28.10px;background:#5a7ba6;border-radius:2.5px;"></div>
<div style="left:1316.00px;top:1057.80px;width:28.10px;height:28.30px;background:#e39345;border-radius:2.5px;"></div>
<div style="top:1016.90px;height:35px;line-height:35px;font-size:27px;color:#fff;white-space:pre;-webkit-text-stroke:0.3px #fff;left:1354.70px;transform-origin:0 50%;transform:scaleX(0.9920);">Field Sales</div>
<div style="top:1056.90px;height:35px;line-height:35px;font-size:27px;color:#fff;white-space:pre;-webkit-text-stroke:0.3px #fff;left:1354.70px;transform-origin:0 50%;transform:scaleX(1.0019);">Organic Sales</div>
<div style="top:916.20px;height:40px;line-height:40px;font-size:31.0px;color:#a7cae5;white-space:pre;-webkit-text-stroke:0.3px #a7cae5;left:1580.80px;transform-origin:0 50%;transform:scaleX(0.9816);">BDE - College Wise Sales Penetration:</div>
<div style="top:977.00px;height:36px;line-height:36px;font-size:28.0px;color:#fff;white-space:pre;-webkit-text-stroke:0.4px #fff;left:1593.00px;transform-origin:0 50%;transform:scaleX(0.9637);">College name</div>
<div style="top:977.00px;height:36px;line-height:36px;font-size:28.0px;color:#fff;white-space:pre;-webkit-text-stroke:0.4px #fff;left:2424.70px;transform-origin:0 50%;transform:scaleX(1.0164);">Total Seat Intake</div>
<div style="top:977.00px;height:36px;line-height:36px;font-size:28.0px;color:#fff;white-space:pre;-webkit-text-stroke:0.4px #fff;left:2648.30px;transform-origin:0 50%;transform:scaleX(0.9825);">Unit S..</div>
<div style="top:977.00px;height:36px;line-height:36px;font-size:28.0px;color:#fff;white-space:pre;-webkit-text-stroke:0.4px #fff;left:2784.30px;transform-origin:0 50%;transform:scaleX(0.9661);">Conversion %</div>
<div style="top:977.00px;height:36px;line-height:36px;font-size:28.0px;color:#fff;white-space:pre;-webkit-text-stroke:0.4px #fff;left:3008.50px;transform-origin:0 50%;transform:scaleX(0.9735);">Trend</div>
<svg style="left:2743px;top:981px" width="27" height="27" viewBox="0 0 27 27"><g fill="#6b6b6b" stroke="#e6e6e6" stroke-width="2"><rect x="1.6" y="1.5" width="22.4" height="7.6" rx="1"/><rect x="1.6" y="9.1" width="14.4" height="7.6" rx="1"/><rect x="1.6" y="16.7" width="8.2" height="7.6" rx="1"/></g></svg>
<div style="left:1580.00px;top:1014.00px;width:1508.00px;height:2.00px;background:#bfbfbf;"></div>
<div style="left:1580.00px;top:1086.00px;width:1508.00px;height:2.00px;background:#bfbfbf;"></div>
<div style="left:1580.00px;top:1156.00px;width:1508.00px;height:2.00px;background:#bfbfbf;"></div>
<div style="left:1580.00px;top:1228.00px;width:1508.00px;height:2.00px;background:#bfbfbf;"></div>
<div style="left:1580.00px;top:1300.00px;width:1508.00px;height:2.00px;background:#bfbfbf;"></div>
<div style="left:1580.00px;top:1370.00px;width:1508.00px;height:2.00px;background:#bfbfbf;"></div>
<div style="left:1580.00px;top:1442.00px;width:1508.00px;height:2.00px;background:#bfbfbf;"></div>
<div style="left:1580.00px;top:1512.00px;width:1508.00px;height:2.00px;background:#bfbfbf;"></div>
<div style="left:1580.00px;top:1584.00px;width:1508.00px;height:2.00px;background:#bfbfbf;"></div>
<div style="left:1580.00px;top:1656.00px;width:1508.00px;height:2.00px;background:#bfbfbf;"></div>
<div style="left:1580.00px;top:1726.00px;width:1508.00px;height:2.00px;background:#bfbfbf;"></div>
<div style="left:1580.00px;top:1796.00px;width:1508.00px;height:2.00px;background:#bfbfbf;"></div>
<div style="top:1035.00px;height:36px;line-height:36px;font-size:27.6px;color:#fff;white-space:pre;font-weight:bold;-webkit-text-stroke:0.3px #fff;left:1593.00px;transform-origin:0 50%;transform:scaleX(0.9404);">Assam Medial College, Dibrugarh</div>
<div style="top:1034.50px;height:36px;line-height:36px;font-size:27.5px;color:#fff;white-space:pre;-webkit-text-stroke:0.35px #fff;left:2424.70px;transform-origin:0 50%;transform:scaleX(1.0120);">800</div>
<div style="top:1034.50px;height:36px;line-height:36px;font-size:27.5px;color:#fff;white-space:pre;-webkit-text-stroke:0.35px #fff;left:2648.30px;transform-origin:0 50%;transform:scaleX(1.0120);">515</div>
<div style="top:1034.50px;height:36px;line-height:36px;font-size:27.5px;color:#fff;white-space:pre;-webkit-text-stroke:0.35px #fff;left:2784.30px;transform-origin:0 50%;transform:scaleX(1.0120);">64.38%</div>
<svg style="left:3008px;top:1038.1px" width="27" height="28" viewBox="0 0 27 28"><defs><linearGradient id="g0" x1="0" y1="0" x2="0" y2="1"><stop offset="0" stop-color="#9fbbd6"/><stop offset="0.07" stop-color="#c3d7ea"/><stop offset="0.2" stop-color="#8fb0d0"/><stop offset="0.3" stop-color="#84a8cc"/><stop offset="1" stop-color="#5c7a98"/></linearGradient></defs><rect x="0.4" y="0.4" width="25.6" height="26.4" rx="5.2" fill="url(#g0)"/><path d="M13.3 4.6 L20.9 13.5 L17 13.5 L17 22.3 L9.9 22.3 L9.9 13.5 L5.8 13.5 Z" fill="#fff"/></svg>
<div style="top:1106.00px;height:36px;line-height:36px;font-size:27.6px;color:#fff;white-space:pre;font-weight:bold;-webkit-text-stroke:0.3px #fff;left:1593.00px;transform-origin:0 50%;transform:scaleX(0.9523);">Gauhati Medical College, Guwahati</div>
<div style="top:1105.50px;height:36px;line-height:36px;font-size:27.5px;color:#fff;white-space:pre;-webkit-text-stroke:0.35px #fff;left:2424.70px;transform-origin:0 50%;transform:scaleX(1.0120);">826</div>
<div style="top:1105.50px;height:36px;line-height:36px;font-size:27.5px;color:#fff;white-space:pre;-webkit-text-stroke:0.35px #fff;left:2648.30px;transform-origin:0 50%;transform:scaleX(1.0120);">496</div>
<div style="top:1105.50px;height:36px;line-height:36px;font-size:27.5px;color:#fff;white-space:pre;-webkit-text-stroke:0.35px #fff;left:2784.30px;transform-origin:0 50%;transform:scaleX(1.0120);">60.05%</div>
<svg style="left:3008px;top:1110.1px" width="27" height="28" viewBox="0 0 27 28"><defs><linearGradient id="g1" x1="0" y1="0" x2="0" y2="1"><stop offset="0" stop-color="#9fbbd6"/><stop offset="0.07" stop-color="#c3d7ea"/><stop offset="0.2" stop-color="#8fb0d0"/><stop offset="0.3" stop-color="#84a8cc"/><stop offset="1" stop-color="#5c7a98"/></linearGradient></defs><rect x="0.4" y="0.4" width="25.6" height="26.4" rx="5.2" fill="url(#g1)"/><path d="M13.3 4.6 L20.9 13.5 L17 13.5 L17 22.3 L9.9 22.3 L9.9 13.5 L5.8 13.5 Z" fill="#fff"/></svg>
<div style="top:1177.00px;height:36px;line-height:36px;font-size:27.6px;color:#fff;white-space:pre;font-weight:bold;-webkit-text-stroke:0.3px #fff;left:1593.00px;transform-origin:0 50%;transform:scaleX(0.9602);">Agartala Government Medical College,Agartala</div>
<div style="top:1176.50px;height:36px;line-height:36px;font-size:27.5px;color:#fff;white-space:pre;-webkit-text-stroke:0.35px #fff;left:2424.70px;transform-origin:0 50%;transform:scaleX(1.0120);">550</div>
<div style="top:1176.50px;height:36px;line-height:36px;font-size:27.5px;color:#fff;white-space:pre;-webkit-text-stroke:0.35px #fff;left:2648.30px;transform-origin:0 50%;transform:scaleX(1.0120);">394</div>
<div style="top:1176.50px;height:36px;line-height:36px;font-size:27.5px;color:#fff;white-space:pre;-webkit-text-stroke:0.35px #fff;left:2784.30px;transform-origin:0 50%;transform:scaleX(1.0120);">71.64%</div>
<svg style="left:3008px;top:1180.1px" width="27" height="28" viewBox="0 0 27 28"><defs><linearGradient id="g2" x1="0" y1="0" x2="0" y2="1"><stop offset="0" stop-color="#9fbbd6"/><stop offset="0.07" stop-color="#c3d7ea"/><stop offset="0.2" stop-color="#8fb0d0"/><stop offset="0.3" stop-color="#84a8cc"/><stop offset="1" stop-color="#5c7a98"/></linearGradient></defs><rect x="0.4" y="0.4" width="25.6" height="26.4" rx="5.2" fill="url(#g2)"/><path d="M13.3 4.6 L20.9 13.5 L17 13.5 L17 22.3 L9.9 22.3 L9.9 13.5 L5.8 13.5 Z" fill="#fff"/></svg>
<div style="top:1249.00px;height:36px;line-height:36px;font-size:27.6px;color:#fff;white-space:pre;font-weight:bold;-webkit-text-stroke:0.3px #fff;left:1593.00px;transform-origin:0 50%;transform:scaleX(0.9329);">Silchar Medical College, Silchar</div>
<div style="top:1248.50px;height:36px;line-height:36px;font-size:27.5px;color:#fff;white-space:pre;-webkit-text-stroke:0.35px #fff;left:2424.70px;transform-origin:0 50%;transform:scaleX(1.0120);">525</div>
<div style="top:1248.50px;height:36px;line-height:36px;font-size:27.5px;color:#fff;white-space:pre;-webkit-text-stroke:0.35px #fff;left:2648.30px;transform-origin:0 50%;transform:scaleX(1.0120);">317</div>
<div style="top:1248.50px;height:36px;line-height:36px;font-size:27.5px;color:#fff;white-space:pre;-webkit-text-stroke:0.35px #fff;left:2784.30px;transform-origin:0 50%;transform:scaleX(1.0120);">60.38%</div>
<svg style="left:3008px;top:1252.1px" width="27" height="28" viewBox="0 0 27 28"><defs><linearGradient id="g3" x1="0" y1="0" x2="0" y2="1"><stop offset="0" stop-color="#9fbbd6"/><stop offset="0.07" stop-color="#c3d7ea"/><stop offset="0.2" stop-color="#8fb0d0"/><stop offset="0.3" stop-color="#84a8cc"/><stop offset="1" stop-color="#5c7a98"/></linearGradient></defs><rect x="0.4" y="0.4" width="25.6" height="26.4" rx="5.2" fill="url(#g3)"/><path d="M13.3 4.6 L20.9 13.5 L17 13.5 L17 22.3 L9.9 22.3 L9.9 13.5 L5.8 13.5 Z" fill="#fff"/></svg>
<div style="top:1302.80px;height:36px;line-height:36px;font-size:27.6px;color:#fff;white-space:pre;font-weight:bold;-webkit-text-stroke:0.3px #fff;left:1593.00px;transform-origin:0 50%;transform:scaleX(0.9356);">Tripura Medical College and Dr. B R A M Teaching Hospital,</div>
<div style="top:1337.20px;height:36px;line-height:36px;font-size:27.6px;color:#fff;white-space:pre;font-weight:bold;-webkit-text-stroke:0.3px #fff;left:1593.00px;transform-origin:0 50%;transform:scaleX(0.9770);">Agarta..</div>
<div style="top:1319.50px;height:36px;line-height:36px;font-size:27.5px;color:#fff;white-space:pre;-webkit-text-stroke:0.35px #fff;left:2424.70px;transform-origin:0 50%;transform:scaleX(1.0120);">500</div>
<div style="top:1319.50px;height:36px;line-height:36px;font-size:27.5px;color:#fff;white-space:pre;-webkit-text-stroke:0.35px #fff;left:2648.30px;transform-origin:0 50%;transform:scaleX(1.0120);">305</div>
<div style="top:1319.50px;height:36px;line-height:36px;font-size:27.5px;color:#fff;white-space:pre;-webkit-text-stroke:0.35px #fff;left:2784.30px;transform-origin:0 50%;transform:scaleX(1.0120);">61.00%</div>
<svg style="left:3008px;top:1324.1px" width="27" height="28" viewBox="0 0 27 28"><defs><linearGradient id="g4" x1="0" y1="0" x2="0" y2="1"><stop offset="0" stop-color="#9fbbd6"/><stop offset="0.07" stop-color="#c3d7ea"/><stop offset="0.2" stop-color="#8fb0d0"/><stop offset="0.3" stop-color="#84a8cc"/><stop offset="1" stop-color="#5c7a98"/></linearGradient></defs><rect x="0.4" y="0.4" width="25.6" height="26.4" rx="5.2" fill="url(#g4)"/><path d="M13.3 4.6 L20.9 13.5 L17 13.5 L17 22.3 L9.9 22.3 L9.9 13.5 L5.8 13.5 Z" fill="#fff"/></svg>
<div style="top:1391.00px;height:36px;line-height:36px;font-size:27.6px;color:#fff;white-space:pre;font-weight:bold;-webkit-text-stroke:0.3px #fff;left:1593.00px;transform-origin:0 50%;transform:scaleX(0.9493);">Regional Institute of Medical Sciences, Imphal</div>
<div style="top:1390.50px;height:36px;line-height:36px;font-size:27.5px;color:#fff;white-space:pre;-webkit-text-stroke:0.35px #fff;left:2424.70px;transform-origin:0 50%;transform:scaleX(1.0120);">525</div>
<div style="top:1390.50px;height:36px;line-height:36px;font-size:27.5px;color:#fff;white-space:pre;-webkit-text-stroke:0.35px #fff;left:2648.30px;transform-origin:0 50%;transform:scaleX(1.0120);">275</div>
<div style="top:1390.50px;height:36px;line-height:36px;font-size:27.5px;color:#fff;white-space:pre;-webkit-text-stroke:0.35px #fff;left:2784.30px;transform-origin:0 50%;transform:scaleX(1.0120);">52.38%</div>
<svg style="left:3008px;top:1394.1px" width="27" height="28" viewBox="0 0 27 28"><defs><linearGradient id="g5" x1="0" y1="0" x2="0" y2="1"><stop offset="0" stop-color="#9fbbd6"/><stop offset="0.07" stop-color="#c3d7ea"/><stop offset="0.2" stop-color="#8fb0d0"/><stop offset="0.3" stop-color="#84a8cc"/><stop offset="1" stop-color="#5c7a98"/></linearGradient></defs><rect x="0.4" y="0.4" width="25.6" height="26.4" rx="5.2" fill="url(#g5)"/><path d="M13.3 4.6 L20.9 13.5 L17 13.5 L17 22.3 L9.9 22.3 L9.9 13.5 L5.8 13.5 Z" fill="#fff"/></svg>
<div style="top:1462.00px;height:36px;line-height:36px;font-size:27.6px;color:#fff;white-space:pre;font-weight:bold;-webkit-text-stroke:0.3px #fff;left:1593.00px;transform-origin:0 50%;transform:scaleX(0.9589);">Jawaharlal Nehru Institute of Medical Sciences,Porompet,Imphal</div>
<div style="top:1461.50px;height:36px;line-height:36px;font-size:27.5px;color:#fff;white-space:pre;-webkit-text-stroke:0.35px #fff;left:2424.70px;transform-origin:0 50%;transform:scaleX(1.0120);">500</div>
<div style="top:1461.50px;height:36px;line-height:36px;font-size:27.5px;color:#fff;white-space:pre;-webkit-text-stroke:0.35px #fff;left:2648.30px;transform-origin:0 50%;transform:scaleX(1.0120);">257</div>
<div style="top:1461.50px;height:36px;line-height:36px;font-size:27.5px;color:#fff;white-space:pre;-webkit-text-stroke:0.35px #fff;left:2784.30px;transform-origin:0 50%;transform:scaleX(1.0120);">51.40%</div>
<svg style="left:3008px;top:1466.1px" width="27" height="28" viewBox="0 0 27 28"><defs><linearGradient id="g6" x1="0" y1="0" x2="0" y2="1"><stop offset="0" stop-color="#9fbbd6"/><stop offset="0.07" stop-color="#c3d7ea"/><stop offset="0.2" stop-color="#8fb0d0"/><stop offset="0.3" stop-color="#84a8cc"/><stop offset="1" stop-color="#5c7a98"/></linearGradient></defs><rect x="0.4" y="0.4" width="25.6" height="26.4" rx="5.2" fill="url(#g6)"/><path d="M6.3 5.2 C13.5 4.2 17.8 8 17.5 15.2 L20.6 15.2 L15 22.6 L9.2 15.2 L12.5 15.2 C12.7 11.2 10.7 9.5 6.3 9.8 Z" fill="#fff"/></svg>
<div style="top:1533.00px;height:36px;line-height:36px;font-size:27.6px;color:#fff;white-space:pre;font-weight:bold;-webkit-text-stroke:0.3px #fff;left:1593.00px;transform-origin:0 50%;transform:scaleX(0.9424);">Jorhat Medical College &amp; Hospital , Jorhat</div>
<div style="top:1532.50px;height:36px;line-height:36px;font-size:27.5px;color:#fff;white-space:pre;-webkit-text-stroke:0.35px #fff;left:2424.70px;transform-origin:0 50%;transform:scaleX(1.0120);">525</div>
<div style="top:1532.50px;height:36px;line-height:36px;font-size:27.5px;color:#fff;white-space:pre;-webkit-text-stroke:0.35px #fff;left:2648.30px;transform-origin:0 50%;transform:scaleX(1.0120);">248</div>
<div style="top:1532.50px;height:36px;line-height:36px;font-size:27.5px;color:#fff;white-space:pre;-webkit-text-stroke:0.35px #fff;left:2784.30px;transform-origin:0 50%;transform:scaleX(1.0120);">47.24%</div>
<svg style="left:3008px;top:1536.1px" width="27" height="28" viewBox="0 0 27 28"><defs><linearGradient id="g7" x1="0" y1="0" x2="0" y2="1"><stop offset="0" stop-color="#9fbbd6"/><stop offset="0.07" stop-color="#c3d7ea"/><stop offset="0.2" stop-color="#8fb0d0"/><stop offset="0.3" stop-color="#84a8cc"/><stop offset="1" stop-color="#5c7a98"/></linearGradient></defs><rect x="0.4" y="0.4" width="25.6" height="26.4" rx="5.2" fill="url(#g7)"/><path d="M6.3 5.2 C13.5 4.2 17.8 8 17.5 15.2 L20.6 15.2 L15 22.6 L9.2 15.2 L12.5 15.2 C12.7 11.2 10.7 9.5 6.3 9.8 Z" fill="#fff"/></svg>
<div style="top:1605.00px;height:36px;line-height:36px;font-size:27.6px;color:#fff;white-space:pre;font-weight:bold;-webkit-text-stroke:0.3px #fff;left:1593.00px;transform-origin:0 50%;transform:scaleX(0.9404);">Fakhruddin Ali Ahmed Medical College, Barpeta, Assam</div>
<div style="top:1604.50px;height:36px;line-height:36px;font-size:27.5px;color:#fff;white-space:pre;-webkit-text-stroke:0.35px #fff;left:2424.70px;transform-origin:0 50%;transform:scaleX(1.0120);">525</div>
<div style="top:1604.50px;height:36px;line-height:36px;font-size:27.5px;color:#fff;white-space:pre;-webkit-text-stroke:0.35px #fff;left:2648.30px;transform-origin:0 50%;transform:scaleX(1.0120);">180</div>
<div style="top:1604.50px;height:36px;line-height:36px;font-size:27.5px;color:#fff;white-space:pre;-webkit-text-stroke:0.35px #fff;left:2784.30px;transform-origin:0 50%;transform:scaleX(1.0120);">34.29%</div>
<svg style="left:3008px;top:1608.1px" width="27" height="28" viewBox="0 0 27 28"><defs><linearGradient id="g8" x1="0" y1="0" x2="0" y2="1"><stop offset="0" stop-color="#9fbbd6"/><stop offset="0.07" stop-color="#c3d7ea"/><stop offset="0.2" stop-color="#8fb0d0"/><stop offset="0.3" stop-color="#84a8cc"/><stop offset="1" stop-color="#5c7a98"/></linearGradient></defs><rect x="0.4" y="0.4" width="25.6" height="26.4" rx="5.2" fill="url(#g8)"/><path d="M6.3 5.2 C13.5 4.2 17.8 8 17.5 15.2 L20.6 15.2 L15 22.6 L9.2 15.2 L12.5 15.2 C12.7 11.2 10.7 9.5 6.3 9.8 Z" fill="#fff"/></svg>
<div style="top:1658.80px;height:36px;line-height:36px;font-size:27.6px;color:#fff;white-space:pre;font-weight:bold;-webkit-text-stroke:0.3px #fff;left:1593.00px;transform-origin:0 50%;transform:scaleX(0.9587);">North Eastern Indira Gandhi Regional Instt. of Health and</div>
<div style="top:1693.20px;height:36px;line-height:36px;font-size:27.6px;color:#fff;white-space:pre;font-weight:bold;-webkit-text-stroke:0.3px #fff;left:1593.00px;transform-origin:0 50%;transform:scaleX(0.9565);">Medical..</div>
<div style="top:1675.50px;height:36px;line-height:36px;font-size:27.5px;color:#fff;white-space:pre;-webkit-text-stroke:0.35px #fff;left:2424.70px;transform-origin:0 50%;transform:scaleX(1.0120);">250</div>
<div style="top:1675.50px;height:36px;line-height:36px;font-size:27.5px;color:#fff;white-space:pre;-webkit-text-stroke:0.35px #fff;left:2648.30px;transform-origin:0 50%;transform:scaleX(1.0120);">128</div>
<div style="top:1675.50px;height:36px;line-height:36px;font-size:27.5px;color:#fff;white-space:pre;-webkit-text-stroke:0.35px #fff;left:2784.30px;transform-origin:0 50%;transform:scaleX(1.0120);">51.20%</div>
<svg style="left:3008px;top:1680.1px" width="27" height="28" viewBox="0 0 27 28"><defs><linearGradient id="g9" x1="0" y1="0" x2="0" y2="1"><stop offset="0" stop-color="#9fbbd6"/><stop offset="0.07" stop-color="#c3d7ea"/><stop offset="0.2" stop-color="#8fb0d0"/><stop offset="0.3" stop-color="#84a8cc"/><stop offset="1" stop-color="#5c7a98"/></linearGradient></defs><rect x="0.4" y="0.4" width="25.6" height="26.4" rx="5.2" fill="url(#g9)"/><path d="M6.3 5.2 C13.5 4.2 17.8 8 17.5 15.2 L20.6 15.2 L15 22.6 L9.2 15.2 L12.5 15.2 C12.7 11.2 10.7 9.5 6.3 9.8 Z" fill="#fff"/></svg>
<div style="top:1746.00px;height:36px;line-height:36px;font-size:27.6px;color:#fff;white-space:pre;font-weight:bold;-webkit-text-stroke:0.3px #fff;left:1593.00px;transform-origin:0 50%;transform:scaleX(0.9399);">Tezpur Medical College &amp; Hospital, Tezpur</div>
<div style="top:1745.50px;height:36px;line-height:36px;font-size:27.5px;color:#fff;white-space:pre;-webkit-text-stroke:0.35px #fff;left:2424.70px;transform-origin:0 50%;transform:scaleX(1.0120);">575</div>
<div style="top:1745.50px;height:36px;line-height:36px;font-size:27.5px;color:#fff;white-space:pre;-webkit-text-stroke:0.35px #fff;left:2648.30px;transform-origin:0 50%;transform:scaleX(1.0120);">120</div>
<div style="top:1745.50px;height:36px;line-height:36px;font-size:27.5px;color:#fff;white-space:pre;-webkit-text-stroke:0.35px #fff;left:2784.30px;transform-origin:0 50%;transform:scaleX(1.0120);">20.87%</div>
<svg style="left:3008px;top:1750.1px" width="27" height="28" viewBox="0 0 27 28"><defs><linearGradient id="g10" x1="0" y1="0" x2="0" y2="1"><stop offset="0" stop-color="#9fbbd6"/><stop offset="0.07" stop-color="#c3d7ea"/><stop offset="0.2" stop-color="#8fb0d0"/><stop offset="0.3" stop-color="#84a8cc"/><stop offset="1" stop-color="#5c7a98"/></linearGradient></defs><rect x="0.4" y="0.4" width="25.6" height="26.4" rx="5.2" fill="url(#g10)"/><path d="M6.3 5.2 C13.5 4.2 17.8 8 17.5 15.2 L20.6 15.2 L15 22.6 L9.2 15.2 L12.5 15.2 C12.7 11.2 10.7 9.5 6.3 9.8 Z" fill="#fff"/></svg>
<div style="top:1875.30px;height:35px;line-height:35px;font-size:27.2px;color:#fff;white-space:pre;font-weight:bold;-webkit-text-stroke:0.3px #fff;left:2443.60px;transform-origin:0 50%;transform:scaleX(0.9147);">Click to Know more about the College  :</div>
<svg style="left:2938.1px;top:1803.4px" width="142" height="142" viewBox="-71 -71 142 142"><defs><linearGradient id="gg" x1="0" y1="0" x2="1" y2="1"><stop offset="0" stop-color="#52915a"/><stop offset="1" stop-color="#417a51"/></linearGradient><filter id="bl" x="-20%" y="-20%" width="140%" height="140%"><feGaussianBlur stdDeviation="1.1"/></filter></defs><circle r="64.6" fill="#cfe0d2" opacity="0.9" filter="url(#bl)"/><circle r="62" fill="url(#gg)"/><path d="M-38.6 -6.6 L9.6 -6.6 L-11 -31.2 L-3.4 -38.8 L35.4 0 L-3.4 38.8 L-11 31.2 L9.6 6.6 L-38.6 6.6 Z" fill="#555555" stroke="#e3ebe3" stroke-width="3" stroke-linejoin="miter" filter="none"/></svg>
<svg style="left:1736px;top:62px" width="56" height="48" viewBox="0 0 56 48"><defs><linearGradient id="bk" x1="0" y1="0" x2="0" y2="1"><stop offset="0" stop-color="#3f9fdc"/><stop offset="0.6" stop-color="#2a7bb0"/><stop offset="0.85" stop-color="#3e98d2"/><stop offset="1" stop-color="#5bb6ef"/></linearGradient></defs><path d="M2.7 6.9 L51.9 6.9 L51.9 43 L31.5 43 C30 45.2 24.3 45.2 22.8 43 L2.7 43 Z" fill="url(#bk)"/><path d="M5.2 9 L26.6 6.4 L26.6 41 C20 39.8 12 40.4 5.2 42 Z" fill="#a9a9ad"/><path d="M49.2 9 L27.6 6.4 L27.6 41 C34 39.8 42 40.4 49.2 42 Z" fill="#a9a9ad"/><path d="M5.6 7 C12 5 20 3.2 26.6 4.4 L26.6 38.8 C20 37.6 12 38.4 5.6 40 Z" fill="#efeff3"/><path d="M27.6 4.4 C34 3.2 42 5 48.8 7 L48.8 40 C42 38.4 34 37.6 27.6 38.8 Z" fill="#efeff3"/><path d="M27.1 4.6 L27.1 40.5" stroke="#66666e" stroke-width="1.5"/><g stroke="#7d7d84" stroke-width="1.15" opacity="0.85"><path d="M8.6 11.6 L23.6 10.6"/><path d="M30.6 10.6 L46 11.6"/><path d="M8.6 14.8 L23.6 13.8"/><path d="M30.6 13.8 L46 14.8"/><path d="M8.6 18.1 L23.6 17.1"/><path d="M30.6 17.1 L46 18.1"/><path d="M8.6 21.4 L23.6 20.4"/><path d="M30.6 20.4 L46 21.4"/><path d="M8.6 24.6 L23.6 23.6"/><path d="M30.6 23.6 L46 24.6"/><path d="M8.6 27.9 L23.6 26.9"/><path d="M30.6 26.9 L46 27.9"/><path d="M8.6 31.1 L23.6 30.1"/><path d="M30.6 30.1 L46 31.1"/><path d="M8.6 34.4 L23.6 33.4"/><path d="M30.6 33.4 L46 34.4"/></g><path d="M23.6 42.6 C25.4 40.2 28.8 40.2 30.6 42.6" fill="none" stroke="#c6a21e" stroke-width="1.6"/></svg>
</div></body></html>
